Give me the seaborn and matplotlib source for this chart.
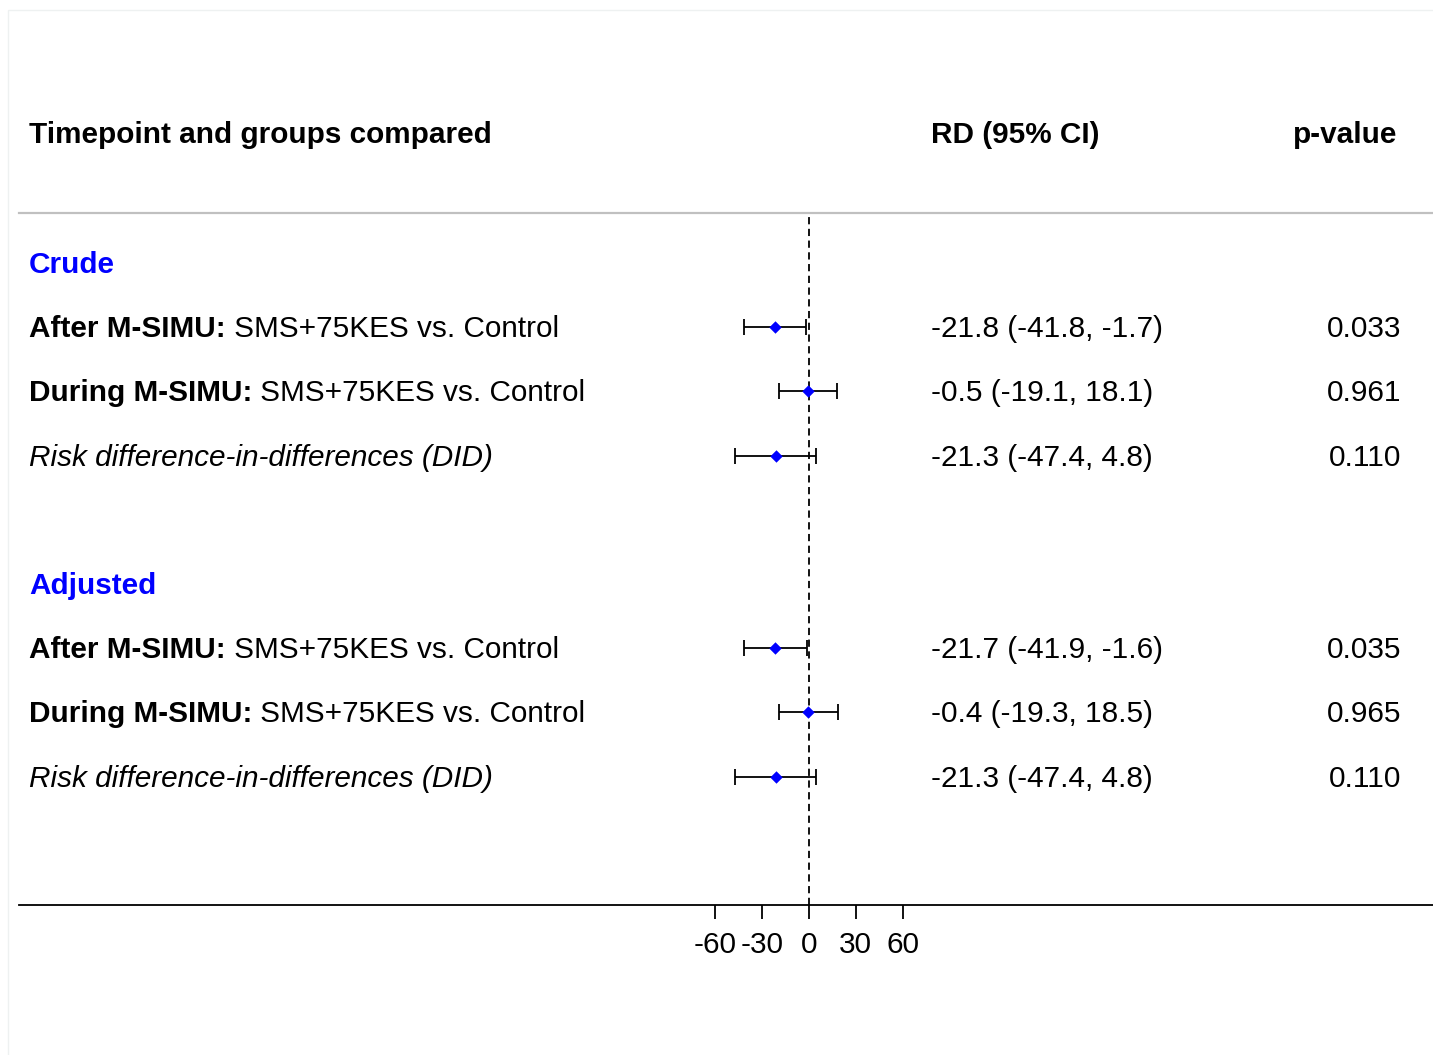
import pandas as pd
import seaborn as sns
import matplotlib.pyplot as plt
from matplotlib.patches import Rectangle

# -----------------------------------
# Data
# -----------------------------------
group_names = ["Crude", "Adjusted"]

row_bold = ["After M-SIMU:", "During M-SIMU:", ""]
row_text = ["SMS+75KES vs. Control", "SMS+75KES vs. Control",
            "Risk difference-in-differences (DID)"]

crude_rd = [-21.8, -0.5, -21.3]
crude_lo = [-41.8, -19.1, -47.4]
crude_hi = [-1.7, 18.1, 4.8]
crude_p = ["0.033", "0.961", "0.110"]

adj_rd = [-21.7, -0.4, -21.3]
adj_lo = [-41.9, -19.3, -47.4]
adj_hi = [-1.6, 18.5, 4.8]
adj_p = ["0.035", "0.965", "0.110"]

x_ticks = [-60, -30, 0, 30, 60]
x_tick_labels = ["-60", "-30", "0", "30", "60"]

header_left = "Timepoint and groups compared"
header_mid = "RD (95% CI)"
header_right = "p-value"

# build a table, one row per estimate, plus row index for y
rows = []
for g, (rd, lo, hi, p) in enumerate([(crude_rd, crude_lo, crude_hi, crude_p),
                                      (adj_rd, adj_lo, adj_hi, adj_p)]):
    for i in range(3):
        rows.append({"group": group_names[g], "row": g * 5 + 1 + i,
                     "bold": row_bold[i], "text": row_text[i],
                     "rd": rd[i], "lo": lo[i], "hi": hi[i], "p": p[i]})
df = pd.DataFrame(rows)

# -----------------------------------
# Plot
# -----------------------------------
sns.set_theme(style="white")
plt.rcParams["font.family"] = ["Liberation Sans", "DejaVu Sans"]
plt.rcParams["axes.unicode_minus"] = False
plt.rcParams["text.color"] = "black"
FS = 21.4
DY = 0.03  # small nudge so text sits on the row line like the original

fig = plt.figure(figsize=(14.33, 10.55), dpi=100)
ax = fig.add_axes([19 / 1433, 1 - 905 / 1055, 1414 / 1433, 692 / 1055])

# faint outer frame
fig.patches.append(Rectangle((8 / 1433, -0.05), 1.2, 1 - 10 / 1055 + 0.05,
                             transform=fig.transFigure, fill=False,
                             edgecolor="#eef1f1", linewidth=1))

ax.axvline(0, color="black", lw=1.3, linestyle=(0, (4, 2.5)), zorder=1)

ax.errorbar(df["rd"], df["row"],
            xerr=[df["rd"] - df["lo"], df["hi"] - df["rd"]],
            fmt="none", ecolor="black", elinewidth=1.3,
            capsize=5.8, capthick=1.3, zorder=2)
sns.scatterplot(data=df, x="rd", y="row", marker="D", color="blue",
                s=40, linewidth=0, zorder=3, ax=ax, legend=False)

ax.set_xlim(-(809 - 19) / 1.56, (1433 - 809) / 1.56)
ax.set_ylim(10.0, -0.78)
ax.set_xticks(x_ticks)
ax.set_xticklabels(x_tick_labels, fontsize=FS)
ax.set_yticks([])
ax.set_xlabel("")
ax.set_ylabel("")
ax.tick_params(axis="x", bottom=True, length=10, width=1.3, pad=9,
               colors="black", labelcolor="black")

for side in ["left", "right"]:
    ax.spines[side].set_visible(False)
ax.spines["top"].set_color("#c0c0c0")
ax.spines["top"].set_linewidth(1.6)
ax.spines["bottom"].set_color("black")
ax.spines["bottom"].set_linewidth(1.3)

# column headers
y_head = 1 - 135 / 1055
fig.text(29 / 1433, y_head, header_left, fontsize=FS,
         fontweight="bold", va="center", ha="left")
fig.text(931 / 1433, y_head, header_mid, fontsize=FS,
         fontweight="bold", va="center", ha="left")
fig.text(1397 / 1433, y_head, header_right, fontsize=FS,
         fontweight="bold", va="center", ha="right")

tr = ax.get_yaxis_transform()
x_left = 10 / 1414
x_mid = 912 / 1414
x_right = 1382 / 1414

# group headers
for g, name in enumerate(group_names):
    ax.text(x_left, g * 5 + DY, name, transform=tr, fontsize=FS,
            fontweight="bold", color="blue", va="center", ha="left")

# row labels and numbers
for _, r in df.iterrows():
    y = r["row"] + DY
    if r["bold"]:
        t = ax.text(x_left, y, r["bold"], transform=tr, fontsize=FS,
                    fontweight="bold", va="center", ha="left")
        ax.annotate(" " + r["text"], xy=(1, 0), xycoords=t, fontsize=FS,
                    va="bottom", ha="left")
    else:
        ax.text(x_left, y, r["text"], transform=tr, fontsize=FS,
                style="italic", va="center", ha="left")
    ax.text(x_mid, y, f"{r['rd']} ({r['lo']}, {r['hi']})",
            transform=tr, fontsize=FS, va="center", ha="left")
    ax.text(x_right, y, r["p"], transform=tr, fontsize=FS,
            va="center", ha="right")

fig.savefig("out.png", dpi=100, facecolor="white")
